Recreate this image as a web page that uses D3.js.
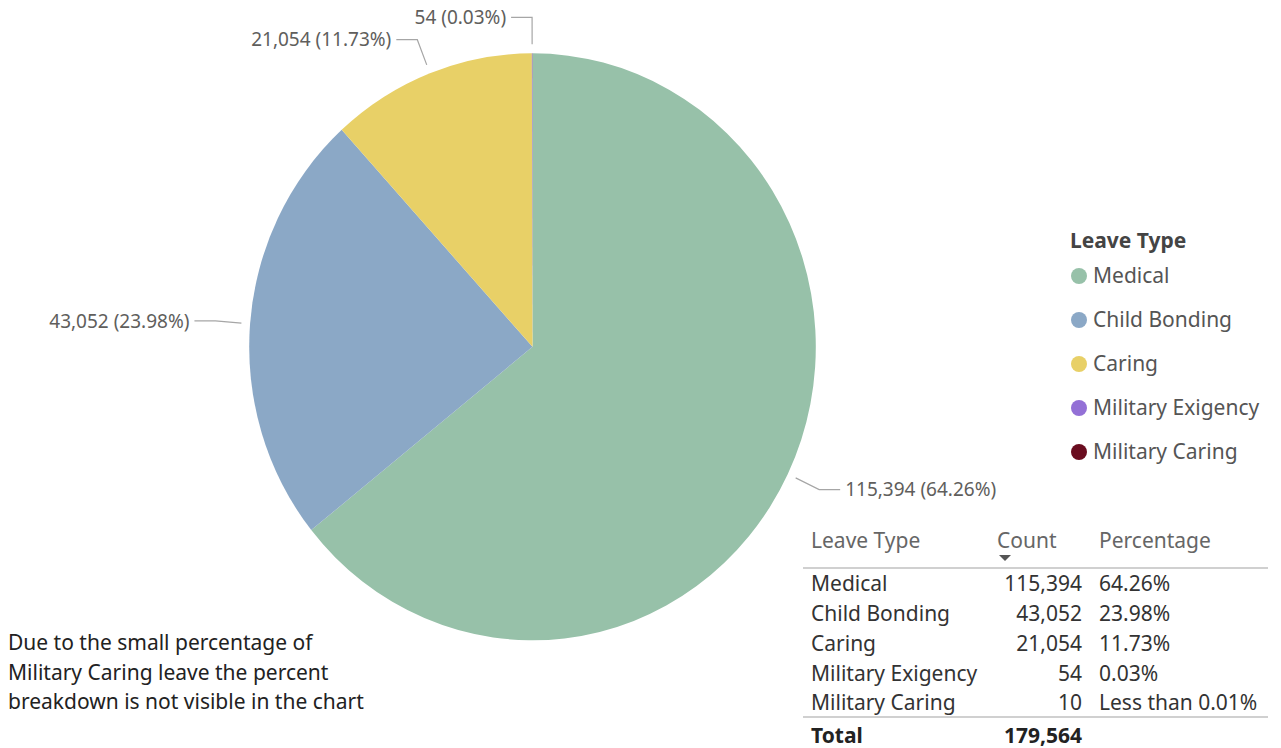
<!DOCTYPE html>
<html>
<head>
<meta charset="utf-8">
<script src="https://cdn.jsdelivr.net/npm/d3@7"></script>
<style>
  html, body { margin: 0; padding: 0; background: #fff; }
  svg { display: block; font-family: "Segoe UI", "Noto Sans", "Open Sans", sans-serif; }
</style>
</head>
<body>
<svg id="chart" width="1281" height="748"></svg>
<script>
// Leave counts by type
const leaveTypes = ["Medical", "Child Bonding", "Caring", "Military Exigency", "Military Caring"];
const counts = [115394, 43052, 21054, 54, 10];
const colors = ["#97C1A9", "#8BA8C6", "#E8D067", "#9370D6", "#6A0D1F"];
const legendTitle = "Leave Type";
const tableHeaders = ["Leave Type", "Count", "Percentage"];
const noteLines = [
  "Due to the small percentage of",
  "Military Caring leave the percent",
  "breakdown is not visible in the chart"
];

const total = d3.sum(counts);
const fmtCount = d3.format(",");
const fmtPct = v => v < 0.0001 ? "Less than 0.01%" : (v * 100).toFixed(2) + "%";

const svg = d3.select("#chart");
const FS = 21;

// ---- Pie ----
const cx = 532.5, cy = 346.8, ry = 293.5, rx = 283.3;
const sx = rx / ry;
const data = leaveTypes.map((name, i) => ({ name, value: counts[i], color: colors[i] }));

const pie = d3.pie().sort(null).value(d => d.value);
const arcs = pie(data);
const arc = d3.arc().innerRadius(0).outerRadius(ry);

const pieG = svg.append("g").attr("transform", `translate(${cx},${cy}) scale(${sx},1)`);
pieG.selectAll("path.slice")
  .data(arcs)
  .join("path")
  .attr("class", "slice")
  .attr("d", arc)
  .attr("fill", d => d.data.color);

// ---- Data labels with leader lines ----
const pt = (a, r) => [cx + Math.sin(a) * r * sx, cy - Math.cos(a) * r];
const labelG = svg.append("g");
arcs.filter(d => d.data.value / total >= 0.0001).forEach(d => {
  const mid = (d.startAngle + d.endAngle) / 2;
  const side = Math.sin(mid) > 0 ? 1 : -1;
  const p0 = pt(mid, ry + 9);
  const p1 = pt(mid, ry + 36);
  const p2 = [p1[0] + side * 21, p1[1]];
  labelG.append("polyline")
    .attr("points", [p0, p1, p2].map(p => p.join(",")).join(" "))
    .attr("fill", "none")
    .attr("stroke", "#A6A6A6")
    .attr("stroke-width", 1.2);
  labelG.append("text")
    .attr("x", p2[0] + side * 5)
    .attr("y", p2[1])
    .attr("dy", "0.35em")
    .attr("text-anchor", side > 0 ? "start" : "end")
    .attr("font-size", 19)
    .attr("fill", "#605E5C")
    .text(`${fmtCount(d.data.value)} (${fmtPct(d.data.value / total)})`);
});

// ---- Legend ----
const legend = svg.append("g").attr("transform", "translate(1070,241)");
legend.append("text")
  .attr("y", 0).attr("dy", "0.35em")
  .attr("font-size", FS).attr("font-weight", "bold").attr("fill", "#444")
  .text(legendTitle);
const legendY = d3.scalePoint().domain(leaveTypes).range([35, 211]);
const items = legend.selectAll("g.item").data(data).join("g")
  .attr("class", "item")
  .attr("transform", d => `translate(0,${legendY(d.name)})`);
items.append("circle").attr("cx", 9).attr("r", 8).attr("fill", d => d.color);
items.append("text").attr("x", 23).attr("dy", "0.35em")
  .attr("font-size", FS).attr("fill", "#555")
  .text(d => d.name);

// ---- Table ----
const table = svg.append("g");
const colName = 811, colCount = 1082, colPct = 1099;
const rowY = d3.scalePoint().domain(leaveTypes).range([584, 703]);
const hdrY = 541;
table.append("text").attr("x", colName).attr("y", hdrY).attr("dy", "0.35em")
  .attr("font-size", FS).attr("fill", "#666").text(tableHeaders[0]);
table.append("text").attr("x", 997).attr("y", hdrY).attr("dy", "0.35em")
  .attr("font-size", FS).attr("fill", "#666").text(tableHeaders[1]);
table.append("text").attr("x", colPct).attr("y", hdrY).attr("dy", "0.35em")
  .attr("font-size", FS).attr("fill", "#666").text(tableHeaders[2]);
// sort indicator under Count
table.append("path").attr("d", "M999,555 L1011,555 L1005,561 Z").attr("fill", "#555");
table.append("line").attr("x1", 803).attr("x2", 1268).attr("y1", 568).attr("y2", 568)
  .attr("stroke", "#D0D0D0").attr("stroke-width", 2);

const rows = table.selectAll("g.row").data(data).join("g")
  .attr("class", "row")
  .attr("transform", d => `translate(0,${rowY(d.name)})`);
rows.append("text").attr("x", colName).attr("dy", "0.35em")
  .attr("font-size", FS).attr("fill", "#333").text(d => d.name);
rows.append("text").attr("x", colCount).attr("dy", "0.35em").attr("text-anchor", "end")
  .attr("font-size", FS).attr("fill", "#333").text(d => fmtCount(d.value));
rows.append("text").attr("x", colPct).attr("dy", "0.35em")
  .attr("font-size", FS).attr("fill", "#333").text(d => fmtPct(d.value / total));

table.append("line").attr("x1", 803).attr("x2", 1268).attr("y1", 717).attr("y2", 717)
  .attr("stroke", "#D0D0D0").attr("stroke-width", 2);
table.append("text").attr("x", colName).attr("y", 736).attr("dy", "0.35em")
  .attr("font-size", FS).attr("font-weight", "bold").attr("fill", "#222").text("Total");
table.append("text").attr("x", colCount).attr("y", 736).attr("dy", "0.35em").attr("text-anchor", "end")
  .attr("font-size", FS).attr("font-weight", "bold").attr("fill", "#222").text(fmtCount(total));

// ---- Note ----
svg.append("g").selectAll("text").data(noteLines).join("text")
  .attr("x", 8)
  .attr("y", (d, i) => 643 + i * 29.5)
  .attr("dy", "0.35em")
  .attr("font-size", FS)
  .attr("fill", "#222")
  .text(d => d);
</script>
</body>
</html>
